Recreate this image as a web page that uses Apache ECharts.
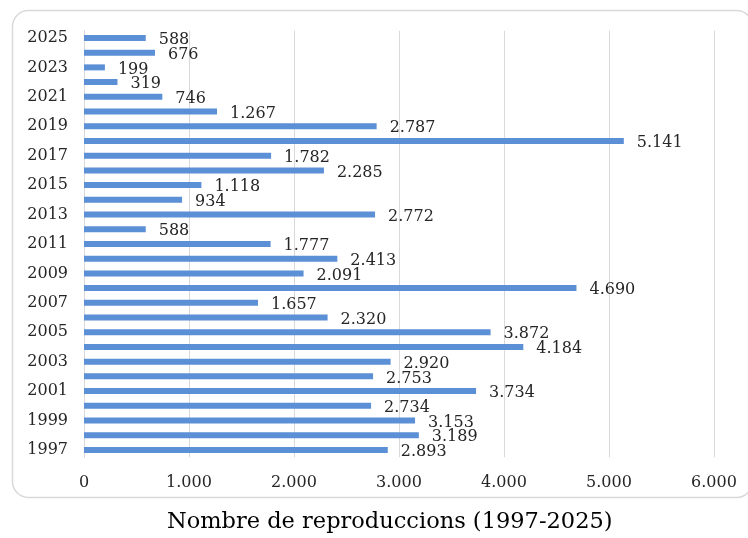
<!DOCTYPE html>
<html>
<head>
<meta charset="utf-8">
<script src="https://cdn.jsdelivr.net/npm/echarts@6/dist/echarts.min.js"></script>
<style>
  html, body { margin: 0; padding: 0; background: #fff; }
  #chart { width: 748px; height: 538px; }
</style>
</head>
<body>
<div id="chart"></div>
<script>
// anys (de baix a dalt)
const years = ['1997', '1998', '1999', '2000', '2001', '2002', '2003', '2004', '2005', '2006',
  '2007', '2008', '2009', '2010', '2011', '2012', '2013', '2014', '2015', '2016',
  '2017', '2018', '2019', '2020', '2021', '2022', '2023', '2024', '2025']
// reproduccions per any
const plays = [2893, 3189, 3153, 2734, 3734, 2753, 2920, 4184, 3872, 2320,
  1657, 4690, 2091, 2413, 1777, 588, 2772, 934, 1118, 2285,
  1782, 5141, 2787, 1267, 746, 319, 199, 676, 588]
const xTicks = [0, 1000, 2000, 3000, 4000, 5000, 6000]

const serif = 'DejaVu Serif'

// separador de milers amb punt
function fmt(v) {
  return String(v).replace(/\B(?=(\d{3})+(?!\d))/g, '.')
}

const chart = echarts.init(document.getElementById('chart'), null, { renderer: 'canvas' })

const option = {
  backgroundColor: '#fff',
  animation: false,
  title: {
    text: 'Nombre de reproduccions (1997-2025)',
    left: 162,
    top: 506,
    textStyle: { fontFamily: serif, fontSize: 22.5, fontWeight: 'normal', color: '#000' }
  },
  graphic: [{
    type: 'rect',
    shape: { x: 12.5, y: 10.5, width: 740, height: 487, r: 16 },
    style: { fill: 'none', stroke: '#d9d9d9', lineWidth: 1.5 },
    z: -1
  }],
  grid: { left: 84, right: 34, top: 30.6, bottom: 80.7 },
  xAxis: {
    type: 'value',
    min: xTicks[0],
    max: xTicks[xTicks.length - 1],
    interval: 1000,
    axisLine: { show: false },
    axisTick: { show: false },
    splitLine: { lineStyle: { color: '#d9d9d9', width: 1 } },
    axisLabel: {
      margin: 18,
      fontFamily: serif, fontSize: 16, color: '#262626',
      formatter: fmt
    }
  },
  yAxis: {
    type: 'category',
    data: years,
    axisLine: { show: true, lineStyle: { color: '#d9d9d9' } },
    axisTick: { show: false },
    axisLabel: {
      interval: 1,
      margin: 16,
      fontFamily: serif, fontSize: 16, color: '#262626'
    }
  },
  series: [{
    type: 'bar',
    data: plays,
    barWidth: 6,
    itemStyle: { color: '#5B8FD6' },
    label: {
      show: true,
      position: 'right',
      distance: 13,
      offset: [0, 2],
      fontFamily: serif, fontSize: 16, color: '#262626',
      formatter: p => fmt(p.value)
    }
  }]
}

chart.setOption(option)
</script>
</body>
</html>
